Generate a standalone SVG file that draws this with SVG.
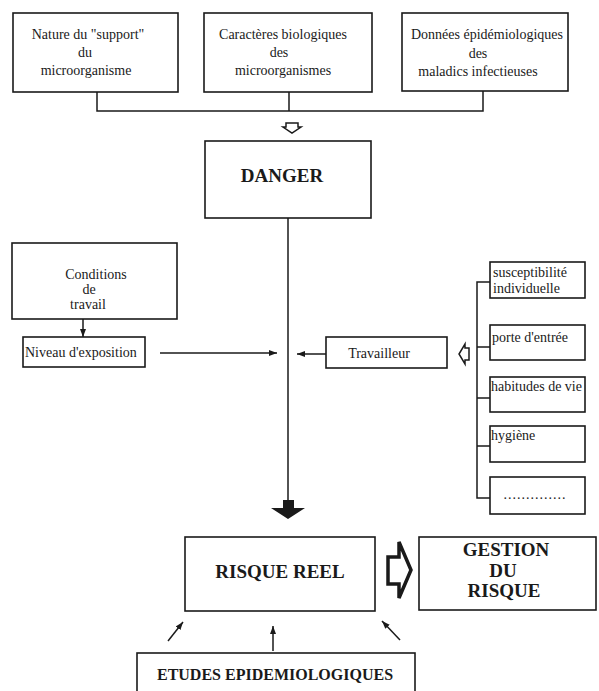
<svg xmlns="http://www.w3.org/2000/svg" width="599" height="691" viewBox="0 0 599 691">
<style>
.box{fill:#fff;stroke:#1a1a1a;stroke-width:1.6}
.ln{fill:none;stroke:#1a1a1a;stroke-width:1.5}
.t{font-family:"Liberation Serif","Times New Roman",serif;font-size:14px;fill:#1a1a1a}
.b{font-family:"Liberation Serif","Times New Roman",serif;font-size:19px;font-weight:bold;fill:#1a1a1a}
.m{text-anchor:middle}
</style>
<defs>
<marker id="ah" markerUnits="userSpaceOnUse" markerWidth="9" markerHeight="7" refX="8" refY="3" orient="auto">
<path d="M0,0 L8,3 L0,6 z" fill="#1a1a1a"/>
</marker>
</defs>
<rect width="599" height="691" fill="#fff"/>

<g id="connectors">
<path class="ln" d="M97,92 V111 H483 V91 M289,92 V111"/>
<polygon class="ln" points="286,123 298,123 298,127 301,127 292,133 283,127 286,127"/>
<line class="ln" x1="288" y1="218" x2="288" y2="502"/>
<polygon points="283,500 294,500 294,508 305,508 288,519 271,508 283,508" fill="#1a1a1a"/>
<line class="ln" x1="83" y1="319" x2="83" y2="337" marker-end="url(#ah)"/>
<line class="ln" x1="160" y1="353" x2="277" y2="353" marker-end="url(#ah)"/>
<line class="ln" x1="326" y1="354" x2="297" y2="354" marker-end="url(#ah)"/>
<polygon class="ln" points="469,348 465,348 465,344 459,354 465,364 465,360 469,360"/>
<path class="ln" d="M490,282 H477 V498 H490 M477,347 H490 M477,398 H490 M477,446 H490"/>
<polygon points="388,557 399,557 399,542 411,570 399,598 399,584 388,584" fill="#fff" stroke="#1a1a1a" stroke-width="3.5" stroke-linejoin="miter"/>
<line class="ln" x1="168" y1="641" x2="183" y2="622" marker-end="url(#ah)"/>
<line class="ln" x1="273" y1="651" x2="273" y2="626" marker-end="url(#ah)"/>
<line class="ln" x1="400" y1="640" x2="382" y2="621" marker-end="url(#ah)"/>
</g>

<g id="n-support">
<rect class="box" x="13" y="13" width="165" height="79"/>
<text class="t m" x="88" y="39">Nature du "support"</text>
<text class="t m" x="85" y="57">du</text>
<text class="t m" x="86" y="75">microorganisme</text>
</g>

<g id="n-caracteres">
<rect class="box" x="204" y="13" width="168" height="79"/>
<text class="t m" x="283" y="39">Caractères biologiques</text>
<text class="t m" x="279" y="57">des</text>
<text class="t m" x="283" y="75">microorganismes</text>
</g>

<g id="n-donnees">
<rect class="box" x="402" y="13" width="166" height="78"/>
<text class="t m" x="487" y="39">Données épidémiologiques</text>
<text class="t m" x="478" y="58">des</text>
<text class="t m" x="478" y="76">maladics  infectieuses</text>
</g>

<g id="n-danger">
<rect class="box" x="205" y="141" width="166" height="77"/>
<text class="b m" x="282" y="182">DANGER</text>
</g>

<g id="n-conditions">
<rect class="box" x="12" y="243" width="165" height="76"/>
<text class="t m" x="96" y="279">Conditions</text>
<text class="t m" x="89" y="294">de</text>
<text class="t m" x="88" y="309">travail</text>
</g>

<g id="n-niveau">
<rect class="box" x="23" y="337" width="122" height="30"/>
<text class="t" x="25" y="357">Niveau d'exposition</text>
</g>

<g id="n-travailleur">
<rect class="box" x="326" y="337" width="121" height="31"/>
<text class="t m" x="379" y="358">Travailleur</text>
</g>

<g id="n-susceptibilite">
<rect class="box" x="490" y="262" width="95" height="36"/>
<text class="t" x="493" y="277">susceptibilité</text>
<text class="t" x="493" y="293">individuelle</text>
</g>

<g id="n-porte">
<rect class="box" x="490" y="325" width="95" height="35"/>
<text class="t" x="492" y="342">porte d'entrée</text>
</g>

<g id="n-habitudes">
<rect class="box" x="490" y="377" width="95" height="35"/>
<text class="t" x="491" y="391">habitudes de vie</text>
</g>

<g id="n-hygiene">
<rect class="box" x="490" y="426" width="95" height="36"/>
<text class="t" x="491" y="440">hygiène</text>
</g>

<g id="n-autres">
<rect class="box" x="490" y="477" width="95" height="37"/>
<text class="t m" x="535" y="499" letter-spacing="1">..............</text>
</g>

<g id="n-risque">
<rect class="box" x="185" y="537" width="190" height="74"/>
<text class="b m" x="280" y="578">RISQUE REEL</text>
</g>

<g id="n-gestion">
<rect class="box" x="419" y="537" width="177" height="73"/>
<text class="b m" x="506" y="556">GESTION</text>
<text class="b m" x="503" y="577">DU</text>
<text class="b m" x="504" y="597">RISQUE</text>
</g>

<g id="n-etudes">
<rect class="box" x="137" y="653" width="278" height="45"/>
<text class="b m" x="275" y="680" style="font-size:16px">ETUDES EPIDEMIOLOGIQUES</text>
</g>
</svg>
